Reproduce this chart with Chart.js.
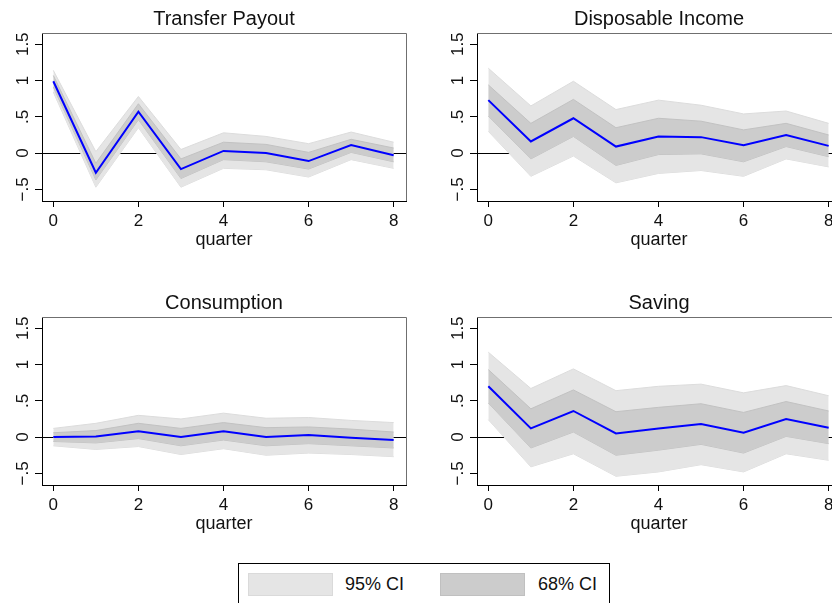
<!DOCTYPE html>
<html>
<head>
<meta charset="utf-8">
<script src="https://cdn.jsdelivr.net/npm/chart.js@4.4.0/dist/chart.umd.min.js"></script>
<style>
  html, body { margin: 0; padding: 0; background: #fff; width: 832px; height: 603px; overflow: hidden; }
  canvas { position: absolute; }
  #legend { position: absolute; left: 238px; top: 563px; width: 372px; height: 60px; border: 1px solid #000;
            box-sizing: border-box; font-family: "Liberation Sans", Arial, sans-serif; font-size: 18px; color: #111; }
  #legend .sw { position: absolute; top: 9px; width: 85px; height: 23px; box-sizing: border-box; }
  #legend .lab { position: absolute; top: 9px; height: 23px; line-height: 23px; white-space: nowrap; }
</style>
</head>
<body>
<canvas id="pTransfer" width="416" height="251" style="left:0;top:0"></canvas>
<canvas id="pIncome" width="416" height="251" style="left:435px;top:0"></canvas>
<canvas id="pConsumption" width="416" height="251" style="left:0;top:284px"></canvas>
<canvas id="pSaving" width="416" height="251" style="left:435px;top:284px"></canvas>

<div id="legend">
  <div class="sw" style="left:9px;background:#e5e5e5;border:1px solid #dadada"></div>
  <div class="lab" style="left:106px">95% CI</div>
  <div class="sw" style="left:201px;background:#cccccc;border:1px solid #c0c0c0"></div>
  <div class="lab" style="left:299px">68% CI</div>
</div>

<script>
// Horizon and axis ticks
const QUARTERS = [0, 1, 2, 3, 4, 5, 6, 7, 8];
const X_TICKS = [0, 2, 4, 6, 8];
const Y_TICKS = [-0.5, 0, 0.5, 1, 1.5];
const Y_TICK_LABELS = ['\u2212.5', '0', '.5', '1', '1.5'];

// Transfer payout response with confidence bands
const transferIRF  = [0.99, -0.27, 0.57, -0.22, 0.03, 0.00, -0.11, 0.11, -0.03];
const transferHi95 = [1.14, 0.02, 0.78, 0.05, 0.28, 0.23, 0.13, 0.29, 0.15];
const transferHi68 = [1.07, -0.14, 0.68, -0.08, 0.15, 0.12, 0.01, 0.19, 0.07];
const transferLo68 = [0.91, -0.37, 0.46, -0.35, -0.09, -0.12, -0.22, 0.01, -0.12];
const transferLo95 = [0.84, -0.47, 0.35, -0.47, -0.21, -0.23, -0.33, -0.09, -0.21];

// Disposable income
const incomeIRF  = [0.73, 0.16, 0.48, 0.09, 0.23, 0.22, 0.11, 0.25, 0.10];
const incomeHi95 = [1.17, 0.65, 0.99, 0.60, 0.73, 0.66, 0.54, 0.58, 0.41];
const incomeHi68 = [0.94, 0.41, 0.74, 0.35, 0.48, 0.44, 0.32, 0.41, 0.25];
const incomeLo68 = [0.51, -0.08, 0.23, -0.17, -0.02, -0.01, -0.12, 0.09, -0.05];
const incomeLo95 = [0.30, -0.32, -0.04, -0.41, -0.28, -0.24, -0.32, -0.08, -0.19];

// Consumption
const consIRF  = [0.00, 0.01, 0.08, 0.00, 0.08, 0.00, 0.03, -0.01, -0.04];
const consHi95 = [0.12, 0.19, 0.30, 0.25, 0.33, 0.26, 0.27, 0.23, 0.20];
const consHi68 = [0.06, 0.09, 0.19, 0.12, 0.20, 0.13, 0.14, 0.11, 0.07];
const consLo68 = [-0.06, -0.08, -0.02, -0.12, -0.04, -0.12, -0.09, -0.12, -0.15];
const consLo95 = [-0.12, -0.17, -0.13, -0.24, -0.16, -0.25, -0.22, -0.24, -0.27];

// Saving
const savingIRF  = [0.70, 0.12, 0.36, 0.05, 0.12, 0.18, 0.06, 0.25, 0.13];
const savingHi95 = [1.17, 0.67, 0.94, 0.64, 0.70, 0.73, 0.61, 0.71, 0.57];
const savingHi68 = [0.93, 0.39, 0.65, 0.35, 0.41, 0.46, 0.34, 0.49, 0.36];
const savingLo68 = [0.47, -0.15, 0.07, -0.25, -0.18, -0.10, -0.22, 0.01, -0.09];
const savingLo95 = [0.24, -0.41, -0.23, -0.54, -0.48, -0.38, -0.48, -0.23, -0.32];

const FONT = '"Liberation Sans", Arial, sans-serif';
const TEXT = '#111';
Chart.defaults.font.family = FONT;

const toPoints = arr => QUARTERS.map((q, i) => ({ x: q, y: arr[i] }));

// Zero reference line (behind the bands) and the grey top/right frame
const framePlugin = {
  id: 'frame',
  beforeDatasetsDraw(chart) {
    const { ctx, chartArea: a, scales } = chart;
    const y0 = Math.round(scales.y.getPixelForValue(0)) + 0.5;
    ctx.save();
    ctx.strokeStyle = '#000';
    ctx.lineWidth = 1.2;
    ctx.beginPath();
    ctx.moveTo(a.left, y0);
    ctx.lineTo(a.right, y0);
    ctx.stroke();
    ctx.strokeStyle = '#6f6f6f';
    ctx.lineWidth = 1;
    const t = Math.round(a.top) + 0.5, r = Math.round(a.right) + 0.5;
    ctx.beginPath();
    ctx.moveTo(a.left, t);
    ctx.lineTo(r, t);
    ctx.lineTo(r, a.bottom);
    ctx.stroke();
    ctx.restore();
  }
};

// Vertical y-axis tick labels, reading bottom to top
const rotatedYLabels = {
  id: 'rotatedYLabels',
  afterDraw(chart) {
    const { ctx, chartArea: a } = chart;
    const ys = chart.scales.y;
    ctx.save();
    ctx.font = '17px ' + FONT;
    ctx.fillStyle = TEXT;
    ctx.textAlign = 'center';
    ctx.textBaseline = 'alphabetic';
    ys.ticks.forEach(t => {
      const py = ys.getPixelForValue(t.value);
      ctx.save();
      ctx.translate(a.left - 14.5, py);
      ctx.rotate(-Math.PI / 2);
      ctx.fillText(Y_TICK_LABELS[Y_TICKS.indexOf(t.value)], 0, 0);
      ctx.restore();
    });
    ctx.restore();
  }
};

function makePanel(id, title, irf, lo68, hi68, lo95, hi95) {
  return new Chart(document.getElementById(id), {
    type: 'line',
    data: {
      datasets: [
        { data: toPoints(irf), borderColor: '#0000ff', borderWidth: 2, pointRadius: 0, fill: false },
        { data: toPoints(hi68), borderColor: '#c2c2c2', borderWidth: 1, backgroundColor: '#cccccc', pointRadius: 0, fill: '+1' },
        { data: toPoints(lo68), borderColor: '#c2c2c2', borderWidth: 1, pointRadius: 0, fill: false },
        { data: toPoints(hi95), borderColor: '#dcdcdc', borderWidth: 1, backgroundColor: '#e5e5e5', pointRadius: 0, fill: '+1' },
        { data: toPoints(lo95), borderColor: '#dcdcdc', borderWidth: 1, pointRadius: 0, fill: false }
      ]
    },
    options: {
      responsive: false,
      animation: false,
      events: [],
      layout: { padding: { left: 0, right: 10, top: 0, bottom: 0 } },
      elements: { line: { tension: 0 } },
      plugins: {
        legend: { display: false },
        tooltip: { enabled: false },
        title: {
          display: true, text: title, color: TEXT, fullSize: false,
          font: { size: 20, weight: 'normal', family: FONT },
          padding: { top: 7, bottom: 2 }
        }
      },
      scales: {
        x: {
          type: 'linear', min: -0.266, max: 8.29,
          afterBuildTicks: s => { s.ticks = X_TICKS.map(v => ({ value: v })); },
          afterFit: s => { s.height = 50; },
          grid: { drawOnChartArea: false, drawTicks: true, tickLength: 6, color: '#000', tickColor: '#000' },
          border: { display: true, color: '#000', width: 1 },
          ticks: { color: TEXT, font: { size: 17 }, padding: 4, maxRotation: 0, autoSkip: false,
                   callback: v => String(v) },
          title: { display: true, text: 'quarter', color: TEXT, font: { size: 18 }, padding: 0 }
        },
        y: {
          type: 'linear', min: -0.66, max: 1.655,
          afterBuildTicks: s => { s.ticks = Y_TICKS.map(v => ({ value: v })); },
          afterFit: s => { s.width = 42; },
          grid: { drawOnChartArea: false, drawTicks: true, tickLength: 7, color: '#000', tickColor: '#000' },
          border: { display: true, color: '#000', width: 1 },
          ticks: { display: false }
        }
      }
    },
    plugins: [framePlugin, rotatedYLabels]
  });
}

makePanel('pTransfer', 'Transfer Payout', transferIRF, transferLo68, transferHi68, transferLo95, transferHi95);
makePanel('pIncome', 'Disposable Income', incomeIRF, incomeLo68, incomeHi68, incomeLo95, incomeHi95);
makePanel('pConsumption', 'Consumption', consIRF, consLo68, consHi68, consLo95, consHi95);
makePanel('pSaving', 'Saving', savingIRF, savingLo68, savingHi68, savingLo95, savingHi95);
</script>
</body>
</html>
